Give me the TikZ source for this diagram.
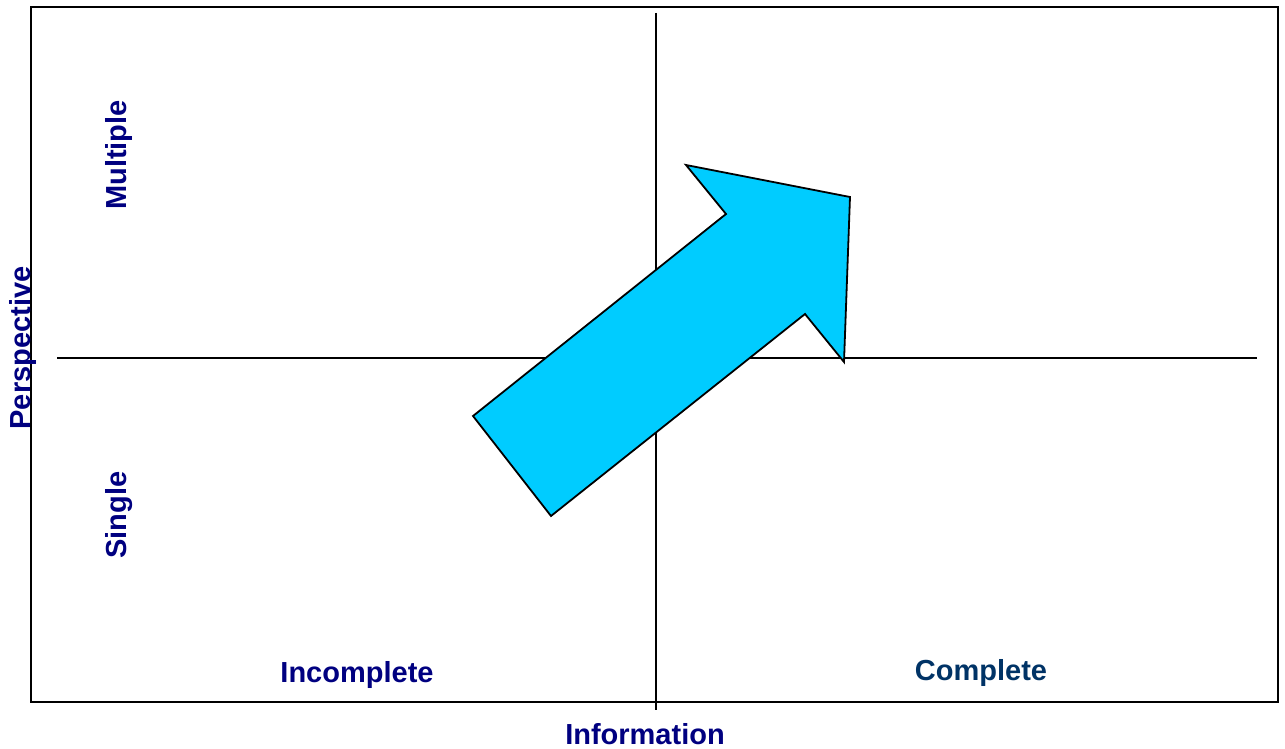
\documentclass[tikz,border=0pt]{standalone}
\usepackage{fontspec}
\setmainfont{Liberation Sans}
\begin{document}
\begin{tikzpicture}[x=1pt,y=-1pt,
  lbl/.style={font=\fontsize{29}{32}\selectfont\bfseries, text=navylbl, inner sep=0pt},
  axis/.style={line width=1.5pt, draw=black},
  bigarrow/.style={fill=arrowcyan, draw=black, line width=1.8pt, line join=miter}]
\definecolor{navylbl}{HTML}{000080}
\definecolor{darklbl}{HTML}{003366}
\definecolor{arrowcyan}{HTML}{00CCFF}
\useasboundingbox (0,0) rectangle (1285,749);
% outer frame
\draw[line width=2.2pt] (31,7) rectangle (1278,702);
% quadrant axes
\coordinate (hl) at (57,358);
\coordinate (hr) at (1257,358);
\coordinate (vt) at (656,13);
\coordinate (vb) at (656,710);
\draw[axis] (hl) -- (hr);
\draw[axis] (vt) -- (vb);
% block arrow from lower left to upper right
\draw[bigarrow] (473,416) -- (551,516) -- (805,314) -- (844,362)
  -- (850,197) -- (686,165) -- (726,214) -- cycle;
% labels
\node[lbl, rotate=90] (multiple) at (119,155) {Multiple};
\node[lbl, rotate=90] (single) at (119,515) {Single};
\node[lbl, rotate=90] (persp) at (23,348) {Perspective};
\node[lbl] (incomplete) at (357,675) {Incomplete};
\node[lbl, text=darklbl] (complete) at (981,673) {Complete};
\node[lbl] (info) at (645,734) {Information};
\end{tikzpicture}
\end{document}
